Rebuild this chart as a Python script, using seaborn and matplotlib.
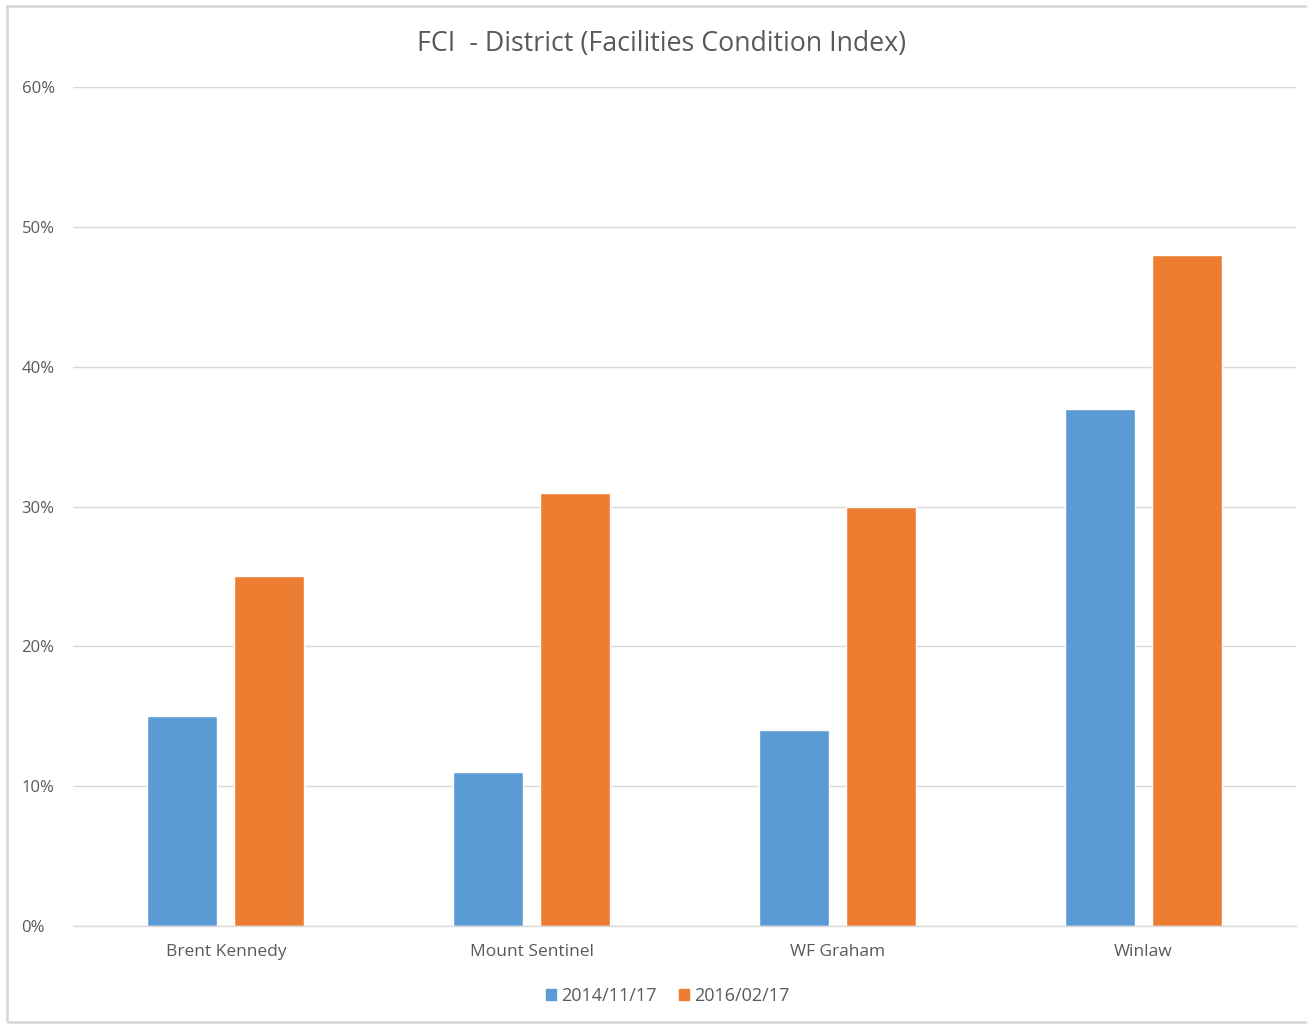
import matplotlib
matplotlib.use("Agg")
import matplotlib.pyplot as plt
import matplotlib.patches as mpatches
from matplotlib.ticker import PercentFormatter
import seaborn as sns
import pandas as pd

categories = ["Brent Kennedy", "Mount Sentinel", "WF Graham", "Winlaw"]
series_names = ["2014/11/17", "2016/02/17"]
values_2014 = [15, 11, 14, 37]
values_2016 = [25, 31, 30, 48]
colors = ["#5B9BD5", "#ED7D31"]
title = "FCI  - District (Facilities Condition Index)"

df = pd.DataFrame({
    "School": categories * 2,
    "Series": [series_names[0]] * 4 + [series_names[1]] * 4,
    "FCI": values_2014 + values_2016,
})

sns.set_theme(style="white")
plt.rcParams["font.family"] = ["Open Sans", "DejaVu Sans"]
text_color = "#595959"
grid_color = "#D9D9D9"

fig = plt.figure(figsize=(13.07, 10.25), dpi=100)
ax = fig.add_axes([73 / 1307, 1 - 926 / 1025, (1296 - 73) / 1307, (926 - 87) / 1025])

sns.barplot(data=df, x="School", y="FCI", hue="Series", order=categories,
            hue_order=series_names, palette=colors, width=0.569, gap=0.195,
            saturation=1, ax=ax, legend=False)

ax.set_ylim(0, 60)
ax.set_yticks(range(0, 61, 10))
ax.yaxis.set_major_formatter(PercentFormatter(decimals=0))
ax.set_xlim(-0.5, 3.5)
ax.set_xlabel("")
ax.set_ylabel("")
ax.yaxis.grid(True, color=grid_color, linewidth=1)
ax.set_axisbelow(True)
for s in ["top", "right", "left"]:
    ax.spines[s].set_visible(False)
ax.spines["bottom"].set_color(grid_color)
ax.spines["bottom"].set_linewidth(1)
ax.tick_params(axis="y", length=0, colors=text_color, labelsize=12, pad=37)
ax.tick_params(axis="x", length=0, colors=text_color, labelsize=12.5, pad=13)
for lbl in ax.get_yticklabels():
    lbl.set_horizontalalignment("left")

fig.text(0.5065, 1 - 44 / 1025, title, ha="center", va="center",
         fontsize=19.3, color=text_color)

handles = [mpatches.Patch(color=c, label=n) for c, n in zip(colors, series_names)]
fig.legend(handles=handles, loc="center", bbox_to_anchor=(0.511, 1 - 996 / 1025),
           ncol=2, frameon=False, fontsize=13, handlelength=0.55, handleheight=0.55,
           handletextpad=0.3, columnspacing=1.2, labelcolor=text_color)

border = mpatches.Rectangle((7 / 1307, 1 - 1022 / 1025), 1.2, (1022 - 6) / 1025,
                            transform=fig.transFigure, fill=False,
                            edgecolor=grid_color, linewidth=2)
fig.patches.append(border)

fig.savefig("out.png", dpi=100)
